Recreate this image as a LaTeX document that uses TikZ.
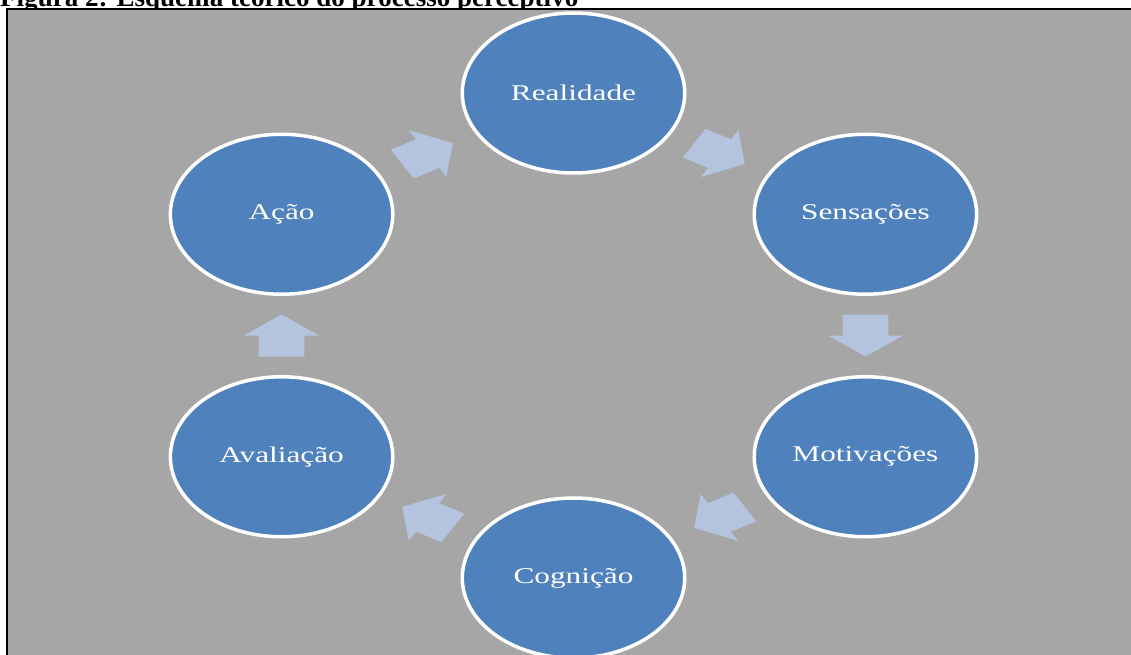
\documentclass[tikz,border=0pt]{standalone}
\usepackage{fontspec}
\setmainfont{Liberation Serif}
\usepackage{graphicx}
\usetikzlibrary{calc}
\definecolor{boxgray}{HTML}{A6A6A6}
\definecolor{circblue}{HTML}{4F81BD}
\definecolor{arrowblue}{HTML}{B4C4DE}
\tikzset{
  stage/.style={circle, fill=circblue, draw=white, line width=3.5pt,
    minimum size=160pt, inner sep=0pt, text=white, transform shape,
    font=\fontsize{22.5}{27}\selectfont},
  blockarrow/.style={fill=arrowblue, draw=none, insert path={
    (-21,-16.5) -- (0,-16.5) -- (0,-27) -- (21,0) -- (0,27) -- (0,16.5) -- (-21,16.5) -- cycle}}
}
\begin{document}
\begin{tikzpicture}[x=1pt,y=1pt]
\useasboundingbox (0,0) rectangle (1131,-655);
\clip (0,0) rectangle (1131,-655);
\node[anchor=base west, inner sep=0pt] (title) at (0,-6.5) {\resizebox{578pt}{!}{\bfseries Figura 2: Esquema teórico do processo perceptivo}};
\draw[line width=2pt, fill=boxgray] (7,-9) rectangle (1145,-670);
\begin{scope}[shift={(573.5,-335.5)}, xscale=1.39]
  \node[stage] (re) at (90:242.5) {Realidade};
  \node[stage] (se) at (30:242.5) {Sensações};
  \node[stage] (mo) at (-30:242.5) {Motivações};
  \node[stage] (co) at (-90:242.5) {Cognição};
  \node[stage] (av) at (-150:242.5) {Avaliação};
  \node[stage] (ac) at (150:242.5) {Ação};
  \path[shift={($(ac)!0.5!(re)$)}, rotate=30, blockarrow];
  \path[shift={($(re)!0.5!(se)$)}, rotate=-30, blockarrow];
  \path[shift={($(se)!0.5!(mo)$)}, rotate=-90, blockarrow];
  \path[shift={($(mo)!0.5!(co)$)}, rotate=-150, blockarrow];
  \path[shift={($(co)!0.5!(av)$)}, rotate=150, blockarrow];
  \path[shift={($(av)!0.5!(ac)$)}, rotate=90, blockarrow];
\end{scope}
\end{tikzpicture}
\end{document}
